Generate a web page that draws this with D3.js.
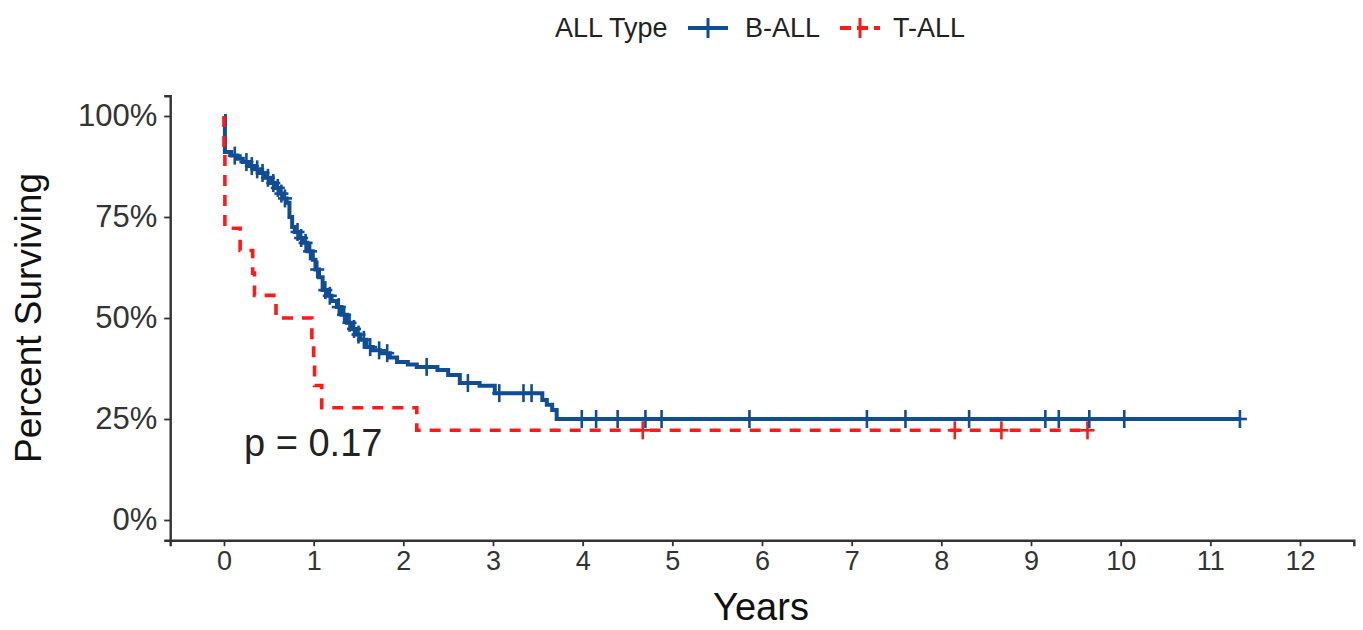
<!DOCTYPE html>
<html><head><meta charset="utf-8">
<script src="https://cdn.jsdelivr.net/npm/d3@7"></script>
<style>body{margin:0;background:#fff;} svg{display:block;font-family:"Liberation Sans",Arial,sans-serif;}</style>
</head><body>
<svg id="chart" width="1363" height="630"></svg>
<script>
// ---- data ----
const groups = ["B-ALL", "T-ALL"];
const xTicks = [0,1,2,3,4,5,6,7,8,9,10,11,12];
const yTicks = [0, 25, 50, 75, 100];
const yTickLabels = ["0%", "25%", "50%", "75%", "100%"];
const pValueLabel = "p = 0.17";

// B-ALL step curve: time (years), survival (%) after the step
const bTimes = [0, 0.01, 0.08, 0.15, 0.21, 0.28, 0.34, 0.40, 0.46, 0.52, 0.57, 0.62, 0.66, 0.70, 0.73, 0.76, 0.79, 0.84, 0.88, 0.93, 0.99, 1.02, 1.06, 1.10, 1.15, 1.20, 1.26, 1.31, 1.37, 1.42, 1.47, 1.52, 1.59, 1.66, 1.74, 1.85, 1.93, 2.05, 2.15, 2.38, 2.50, 2.63, 2.85, 3.02, 3.55, 3.60, 3.66, 3.71, 11.33];
const bSurv  = [100, 91.1, 90.2, 89.4, 88.6, 87.6, 86.8, 85.9, 84.7, 83.4, 82.2, 80.8, 79.6, 78.5, 75.0, 72.5, 71.3, 69.8, 68.6, 66.5, 64.4, 62.0, 60.1, 56.9, 55.5, 54.2, 52.7, 50.8, 48.8, 47.3, 45.9, 44.6, 42.8, 42.0, 41.3, 40.2, 39.1, 38.5, 37.9, 37.1, 35.9, 33.9, 33.2, 31.4, 29.7, 28.5, 27.2, 25.0, 25.0];
const bCensor = [0.12, 0.25, 0.31, 0.37, 0.43, 0.49, 0.55, 0.60, 0.64, 0.68, 0.82, 0.86, 0.91, 0.96, 1.04, 1.13, 1.18, 1.28, 1.34, 1.40, 1.45, 1.50, 1.56, 1.63, 1.73, 1.82, 2.26, 2.72, 3.07, 3.34, 3.43, 3.99, 4.15, 4.39, 4.70, 4.88, 5.86, 7.17, 7.60, 8.31, 9.16, 9.31, 9.65, 10.04, 11.33];

// T-ALL step curve
const tTimes = [0, 0.01, 0.18, 0.32, 0.34, 0.58, 0.98, 1.00, 1.01, 1.09, 2.15, 9.63];
const tSurv  = [100, 72.2, 66.7, 61.1, 55.6, 50.0, 44.4, 38.9, 33.3, 27.8, 22.2, 22.2];
const tCensor = [4.67, 8.15, 8.67, 9.63];

// ---- layout ----
const colors = {"B-ALL": "#114d93", "T-ALL": "#ff1a1a"};
const svg = d3.select("#chart");
const x = d3.scaleLinear().domain([-0.6, 12.6]).range([170.2, 1353.8]);
const y = d3.scaleLinear().domain([-5, 105]).range([540.2, 95.8]);

function stepAt(times, surv, t) {
  let s = surv[0];
  for (let i = 0; i < times.length; i++) { if (times[i] <= t) s = surv[i]; }
  return s;
}

// axes
const xAxis = d3.axisBottom(x).tickValues(xTicks).tickFormat(d3.format("d")).tickSize(6).tickPadding(5);
const gx = svg.append("g").attr("transform", `translate(0,${y.range()[0]})`).call(xAxis);
const yAxis = d3.axisLeft(y).tickValues(yTicks).tickFormat(d => yTickLabels[yTicks.indexOf(d)]).tickSize(6).tickPadding(6);
const gy = svg.append("g").attr("transform", `translate(${x.range()[0]},0)`).call(yAxis);
[gx, gy].forEach(g => {
  g.select(".domain").attr("stroke", "#333").attr("stroke-width", 2.4);
  g.selectAll(".tick line").attr("stroke", "#333").attr("stroke-width", 1.8);
  g.selectAll(".tick text").attr("fill", "#333").attr("font-family", '"Liberation Sans", Arial, sans-serif');
});
gx.selectAll(".tick text").attr("font-size", 27);
gy.selectAll(".tick text").attr("font-size", 31).attr("x", -13);

// axis titles
svg.append("text").attr("x", 761).attr("y", 620).attr("text-anchor", "middle")
  .attr("font-size", 38).attr("fill", "#111").text("Years");
svg.append("text").attr("transform", "translate(41,318) rotate(-90)").attr("text-anchor", "middle")
  .attr("font-size", 37).attr("fill", "#111").text("Percent Surviving");

// curves
const line = d3.line().x(d => x(d[0])).y(d => y(d[1])).curve(d3.curveStepAfter);
function drawGroup(name, times, surv, censor, dashed) {
  const pts = times.map((t, i) => [t, surv[i]]);
  svg.append("path").datum(pts).attr("d", line).attr("fill", "none")
    .attr("stroke", colors[name]).attr("stroke-width", dashed ? 3.6 : 4)
    .attr("stroke-dasharray", dashed ? "11,9" : null);
  const g = svg.append("g").attr("stroke", colors[name]).attr("stroke-width", 2.6);
  censor.forEach(t => {
    const cx = x(t), cy = y(stepAt(times, surv, t));
    g.append("line").attr("x1", cx - 7).attr("x2", cx + 7).attr("y1", cy).attr("y2", cy);
    g.append("line").attr("x1", cx).attr("x2", cx).attr("y1", cy - 9).attr("y2", cy + 9);
  });
}
drawGroup("T-ALL", tTimes, tSurv, tCensor, true);
drawGroup("B-ALL", bTimes, bSurv, bCensor, false);
// red dashes visible over the shared drop at time 0
svg.append("path").datum([[0,100],[0,91]]).attr("d", line).attr("fill","none")
  .attr("stroke", colors["T-ALL"]).attr("stroke-width", 3.6).attr("stroke-dasharray", "11,9");

// p-value
svg.append("text").attr("x", 244).attr("y", 456).attr("font-size", 38).attr("fill", "#222").text(pValueLabel);

// legend
const lg = svg.append("g").attr("font-size", 27).attr("fill", "#222");
lg.append("text").attr("x", 555).attr("y", 37).text("ALL Type");
const legendItems = [{name: "B-ALL", kx: 688, tx: 745, dashed: false}, {name: "T-ALL", kx: 840, tx: 893, dashed: true}];
legendItems.forEach(it => {
  lg.append("line").attr("x1", it.kx).attr("x2", it.kx + 40).attr("y1", 28).attr("y2", 28)
    .attr("stroke", colors[it.name]).attr("stroke-width", 4).attr("stroke-dasharray", it.dashed ? "11,6" : null);
  lg.append("line").attr("x1", it.kx + 20).attr("x2", it.kx + 20).attr("y1", 18).attr("y2", 38)
    .attr("stroke", colors[it.name]).attr("stroke-width", 3);
  lg.append("text").attr("x", it.tx).attr("y", 37).text(it.name);
});
</script>
</body></html>
